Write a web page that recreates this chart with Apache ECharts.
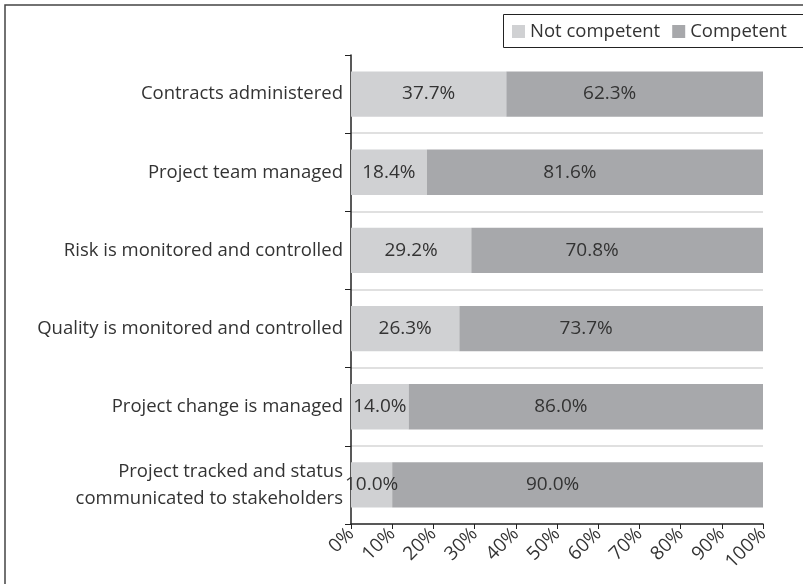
<!DOCTYPE html>
<html>
<head>
<meta charset="utf-8">
<script src="https://cdn.jsdelivr.net/npm/echarts@6/dist/echarts.min.js"></script>
<style>
  html, body { margin: 0; padding: 0; background: #fff; }
  #chart { width: 803px; height: 584px; }
</style>
</head>
<body>
<div id="chart"></div>
<script>
// categories, top to bottom
var categories = [
  "Contracts administered",
  "Project team managed",
  "Risk is monitored and controlled",
  "Quality is monitored and controlled",
  "Project change is managed",
  "Project tracked and status\ncommunicated to stakeholders"
];
var notCompetent = [37.7, 18.4, 29.2, 26.3, 14.0, 10.0];
var competent = [62.3, 81.6, 70.8, 73.7, 86.0, 90.0];
var seriesNames = ["Not competent", "Competent"];

var font = "'Open Sans', sans-serif";
var chart = echarts.init(document.getElementById("chart"));

function barLabel() {
  return {
    show: true,
    position: "inside",
    color: "#333",
    fontFamily: font,
    fontSize: 19,
    formatter: function (p) { return p.value.toFixed(1) + "%"; }
  };
}

chart.setOption({
  animation: false,
  textStyle: { fontFamily: font },
  graphic: [
    // outer frame, cut off on the right and bottom like the source
    {
      type: "rect",
      shape: { x: 5, y: 5, width: 900, height: 700 },
      style: { fill: "none", stroke: "#444", lineWidth: 1.5 }
    },
    // legend box runs past the right edge
    {
      type: "rect",
      shape: { x: 503.5, y: 14.5, width: 400, height: 33 },
      style: { fill: "none", stroke: "#222", lineWidth: 1 }
    }
  ],
  legend: {
    data: seriesNames,
    left: 504,
    top: 15,
    padding: [7, 8, 7, 8],
    icon: "rect",
    itemWidth: 13,
    itemHeight: 13,
    itemGap: 12,
    textStyle: { color: "#333", fontSize: 18.5, fontFamily: font }
  },
  grid: { left: 351, right: 40, top: 55, bottom: 60, containLabel: false },
  xAxis: {
    type: "value",
    min: 0,
    max: 100,
    interval: 10,
    axisLine: { show: true, lineStyle: { color: "#222", width: 1.5 } },
    axisTick: { show: true, length: 5, lineStyle: { color: "#222" } },
    splitLine: { show: false },
    axisLabel: {
      rotate: 45,
      color: "#333",
      fontSize: 19,
      fontFamily: font,
      margin: 7,
      formatter: "{value}%"
    }
  },
  yAxis: {
    type: "category",
    inverse: true,
    data: categories,
    axisLine: { show: true, lineStyle: { color: "#222", width: 1.5 } },
    axisTick: { show: true, length: 6, lineStyle: { color: "#222" } },
    splitLine: {
      show: true,
      lineStyle: { color: ["#fff", "#d6d6d6", "#d6d6d6", "#d6d6d6", "#d6d6d6", "#d6d6d6", "#fff"], width: 1.5 }
    },
    axisLabel: {
      color: "#333",
      fontSize: 18.5,
      fontFamily: font,
      margin: 8,
      lineHeight: 27,
      align: "right"
    }
  },
  series: [
    {
      name: seriesNames[0],
      type: "bar",
      stack: "total",
      barWidth: "58%",
      itemStyle: { color: "#d0d1d3" },
      label: barLabel(),
      data: notCompetent
    },
    {
      name: seriesNames[1],
      type: "bar",
      stack: "total",
      barWidth: "58%",
      itemStyle: { color: "#a7a8ab" },
      label: Object.assign(barLabel(), { offset: [-25, 0] }),
      data: competent
    }
  ]
});
</script>
</body>
</html>
